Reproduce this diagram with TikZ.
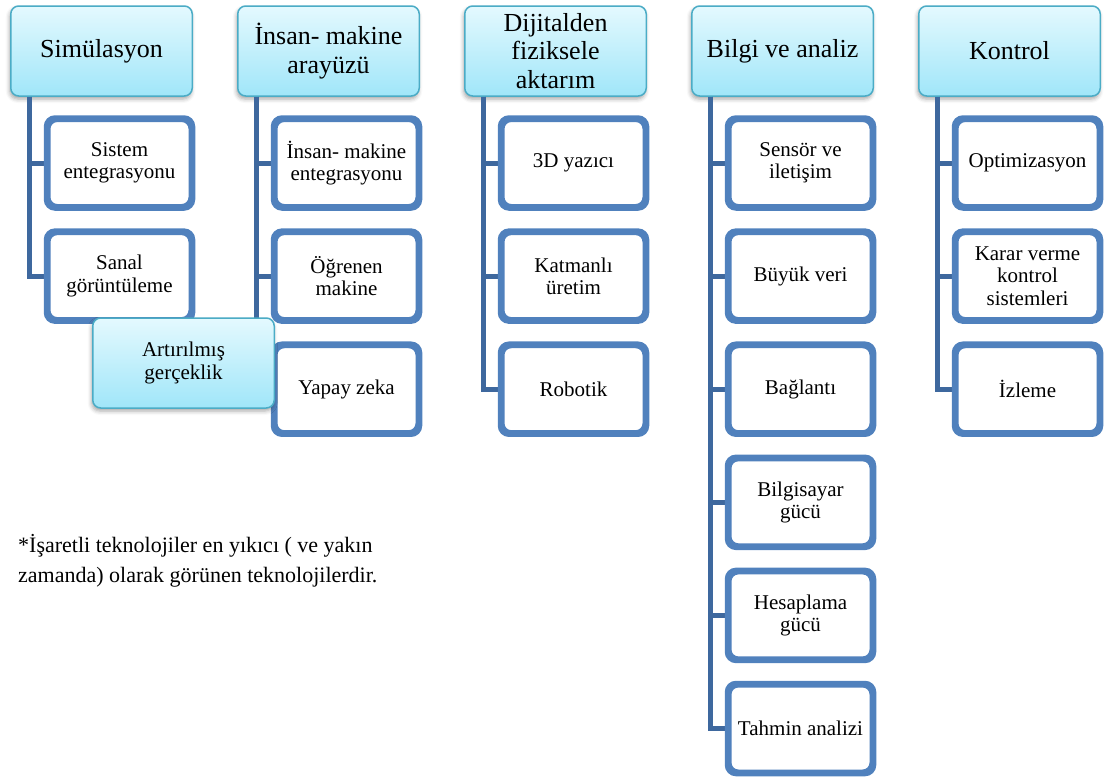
\documentclass[tikz,border=0pt]{standalone}
\usepackage{fontspec}
\setmainfont{Liberation Serif}
\usetikzlibrary{shadows.blur}
\definecolor{headborder}{RGB}{75,172,198}
\definecolor{headtop}{RGB}{228,249,254}
\definecolor{headbot}{RGB}{160,230,249}
\definecolor{itemborder}{RGB}{80,129,189}
\definecolor{trunk}{RGB}{62,104,158}
\tikzset{
  headbox/.style={draw=headborder, line width=1.5pt, rounded corners=8pt,
    top color=headtop, bottom color=headbot,
    minimum width=181.5pt, minimum height=90pt, align=center,
    font=\fontsize{26}{28.5}\selectfont, inner sep=2pt,
    blur shadow={shadow xshift=-1pt, shadow yshift=-3pt, shadow blur radius=4pt, shadow opacity=35}},
  notebox/.style={headbox, font=\fontsize{21}{23}\selectfont},
  itembox/.style={draw=itemborder, line width=4.5pt, rounded corners=9pt, fill=white,
    minimum width=142.5pt, minimum height=86.5pt, align=center,
    font=\fontsize{21}{22.5}\selectfont, inner sep=2pt},
  conn/.style={draw=trunk, line width=5pt}
}
\begin{document}
\begin{tikzpicture}[x=1pt,y=-1pt]
\useasboundingbox (0,0) rectangle (1107,780);

% category headers
\node[headbox] (h1) at (101.5,51) {Simülasyon};
\node[headbox] (h2) at (328.5,51) {İnsan- makine\\arayüzü};
\node[headbox] (h3) at (555.5,51) {Dijitalden\\fiziksele\\aktarım};
\node[headbox] (h4) at (782.5,51) {Bilgi ve analiz};
\node[headbox] (h5) at (1009.5,51) {Kontrol};

% trunk start points under each header
\coordinate (t1) at ([xshift=19pt]h1.south west);
\coordinate (t2) at ([xshift=19pt]h2.south west);
\coordinate (t3) at ([xshift=19pt]h3.south west);
\coordinate (t4) at ([xshift=19pt]h4.south west);
\coordinate (t5) at ([xshift=19pt]h5.south west);

% items
\node[itembox] (a1) at (119.5,163) {Sistem\\entegrasyonu};
\node[itembox] (a2) at (119.5,276.1) {Sanal\\görüntüleme};

\node[itembox] (b1) at (346.5,163) {İnsan- makine\\entegrasyonu};
\node[itembox] (b2) at (346.5,276.1) {Öğrenen\\makine};
\node[itembox] (b3) at (346.5,389.2) {Yapay zeka};

\node[itembox] (c1) at (573.5,163) {3D yazıcı};
\node[itembox] (c2) at (573.5,276.1) {Katmanlı\\üretim};
\node[itembox] (c3) at (573.5,389.2) {Robotik};

\node[itembox] (d1) at (800.5,163) {Sensör ve\\iletişim};
\node[itembox] (d2) at (800.5,276.1) {Büyük veri};
\node[itembox] (d3) at (800.5,389.2) {Bağlantı};
\node[itembox] (d4) at (800.5,502.3) {Bilgisayar\\gücü};
\node[itembox] (d5) at (800.5,615.4) {Hesaplama\\gücü};
\node[itembox] (d6) at (800.5,728.5) {Tahmin analizi};

\node[itembox] (e1) at (1027.5,163) {Optimizasyon};
\node[itembox] (e2) at (1027.5,276.1) {Karar verme\\kontrol\\sistemleri};
\node[itembox] (e3) at (1027.5,389.2) {İzleme};

% connectors
\begin{scope}[on background layer/.style={}]
\foreach \t/\c in {t1/a1,t1/a2,t2/b1,t2/b2,t2/b3,t3/c1,t3/c2,t3/c3,
                   t4/d1,t4/d2,t4/d3,t4/d4,t4/d5,t4/d6,t5/e1,t5/e2,t5/e3}
  \draw[conn] (\t) |- (\c.west);
\end{scope}

% redraw items over connector ends
\foreach \c in {a1,a2,b1,b2,b3,c1,c2,c3,d1,d2,d3,d4,d5,d6,e1,e2,e3}
  \draw[draw=itemborder, line width=4.5pt, rounded corners=9pt]
    (\c.south west) rectangle (\c.north east);

% marked technology
\node[notebox] (ar) at (183.5,363) {Artırılmış\\gerçeklik};

% footnote
\node[anchor=north west, align=left, inner sep=0pt,
      font=\fontsize{22}{30}\selectfont] (note) at (18,534)
  {*İşaretli teknolojiler en yıkıcı ( ve yakın\\zamanda) olarak görünen teknolojilerdir.};
\end{tikzpicture}
\end{document}
